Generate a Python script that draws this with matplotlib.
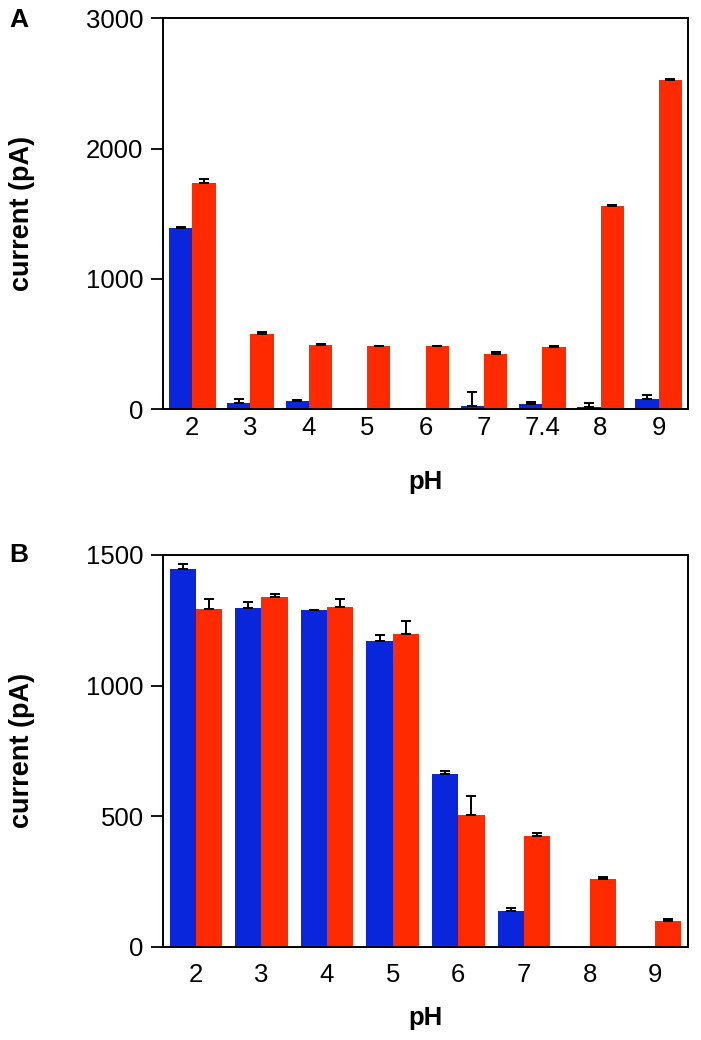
import matplotlib
matplotlib.use("Agg")
import matplotlib.pyplot as plt
import numpy as np

plt.rcParams['font.family'] = ['Liberation Sans', 'DejaVu Sans']

# panel A
ph_a = ["2", "3", "4", "5", "6", "7", "7.4", "8", "9"]
blue_a = [1392, 48, 66, 0, 0, 28, 41, 18, 79]
blue_a_err = [8, 31, 8, 0, 0, 107, 15, 28, 33]
red_a = [1738, 581, 496, 484, 484, 425, 481, 1561, 2527]
red_a_err = [28, 15, 5, 4, 4, 13, 4, 4, 4]

# panel B
ph_b = ["2", "3", "4", "5", "6", "7", "8", "9"]
blue_b = [1445, 1297, 1288, 1170, 662, 137, 0, 0]
blue_b_err = [21, 24, 3, 23, 10, 12, 0, 0]
red_b = [1293, 1338, 1300, 1198, 505, 422, 260, 99]
red_b_err = [39, 12, 32, 50, 71, 11, 8, 7]

BLUE = "#0a26dc"
RED = "#ff2a00"
W = 0.4


def draw_panel(ax, labels, blue, blue_err, red, red_err, ymax, yticks, xpad):
    x = np.arange(len(labels))
    ax.bar(x - W / 2, blue, W, color=BLUE, linewidth=0)
    ax.bar(x + W / 2, red, W, color=RED, linewidth=0)
    for xs, vals, errs in ((x - W / 2, blue, blue_err), (x + W / 2, red, red_err)):
        vals = np.array(vals, dtype=float)
        errs = np.array(errs, dtype=float)
        m = vals > 0
        ax.errorbar(xs[m], vals[m], yerr=[np.zeros(m.sum()), errs[m]], fmt='none',
                    ecolor='black', elinewidth=1.4, capsize=3.3, capthick=1.4)
    ax.set_xlim(-0.5, len(labels) - 0.5)
    ax.set_ylim(0, ymax)
    ax.set_xticks(x)
    ax.set_xticklabels(labels)
    ax.set_yticks(yticks)
    ax.tick_params(axis='x', length=0, labelsize=18.5, pad=xpad)
    ax.tick_params(axis='y', length=9, width=1.3, labelsize=18.5, pad=5)
    for s in ax.spines.values():
        s.set_linewidth(1.4)


fig = plt.figure(figsize=(7.01, 10.4), dpi=100)
H = 1040.0
Wd = 701.0

ax_a = fig.add_axes([163 / Wd, 1 - 409.3 / H, 525 / Wd, 391 / H])
draw_panel(ax_a, ph_a, blue_a, blue_a_err, red_a, red_a_err, 3000, [0, 1000, 2000, 3000], 5)

ax_b = fig.add_axes([163 / Wd, 1 - 946.5 / H, 525 / Wd, 391.5 / H])
draw_panel(ax_b, ph_b, blue_b, blue_b_err, red_b, red_b_err, 1500, [0, 500, 1000, 1500], 12)

fig.text(9 / Wd, 1 - 20 / H, "A", fontsize=19, fontweight='bold', ha='left', va='center')
fig.text(9 / Wd, 1 - 555 / H, "B", fontsize=19, fontweight='bold', ha='left', va='center')

fig.text(22 / Wd, 1 - 213.7 / H, "current (pA)", fontsize=19.5, fontweight='bold',
         rotation=90, ha='center', va='center')
fig.text(22 / Wd, 1 - 750.7 / H, "current (pA)", fontsize=19.5, fontweight='bold',
         rotation=90, ha='center', va='center')

fig.text(425.5 / Wd, 1 - 482 / H, "pH", fontsize=18.5, fontweight='bold', ha='center', va='center')
fig.text(425.5 / Wd, 1 - 1018 / H, "pH", fontsize=18.5, fontweight='bold', ha='center', va='center')

fig.savefig("out.png", dpi=100)
